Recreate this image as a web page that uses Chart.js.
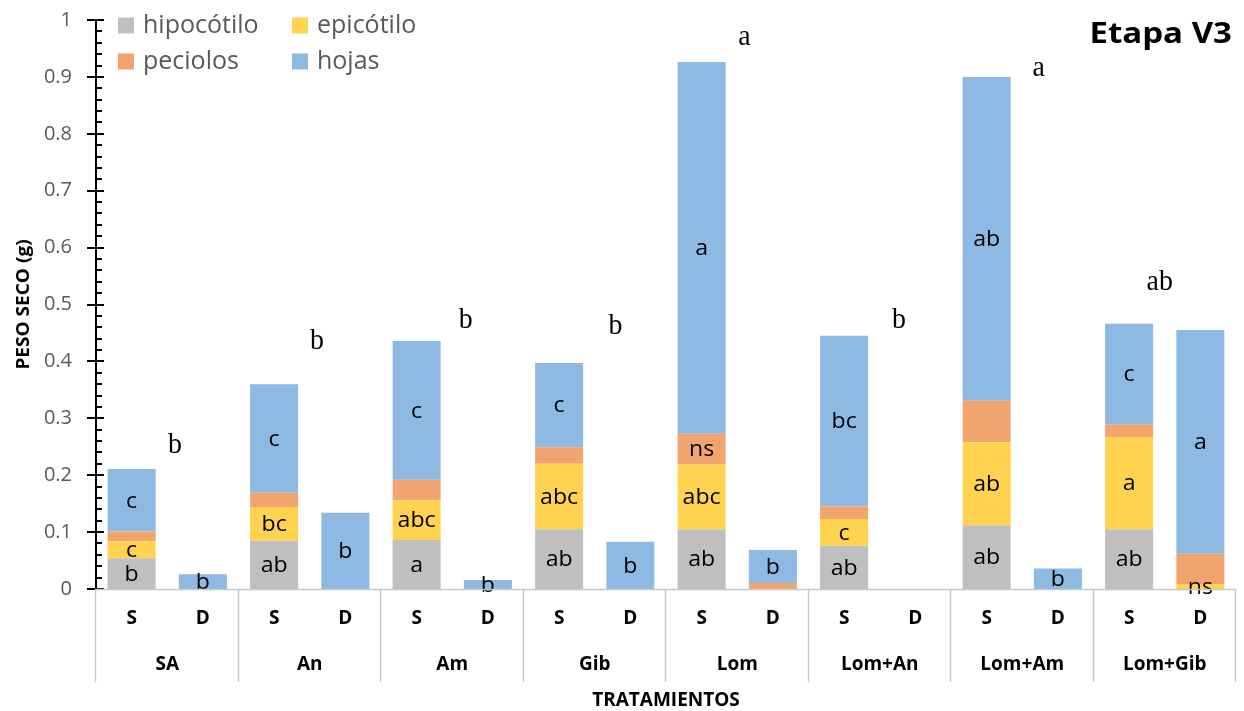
<!DOCTYPE html>
<html>
<head>
<meta charset="utf-8">
<script src="https://cdn.jsdelivr.net/npm/chart.js@4.4.1/dist/chart.umd.min.js"></script>
<style>
  html, body { margin: 0; padding: 0; background: #ffffff; }
  #wrap { width: 1244px; height: 711px; position: relative; }
</style>
</head>
<body>
<div id="wrap"><canvas id="chart" width="1244" height="711"></canvas></div>
<script>
// Treatments and the two parts measured for each one
const treatments = ['SA', 'An', 'Am', 'Gib', 'Lom', 'Lom+An', 'Lom+Am', 'Lom+Gib'];
const parts = ['S', 'D'];

// Dry weight (g) per organ; order: SA-S, SA-D, An-S, An-D, ...
const hipocotilo = [0.054, 0, 0.085, 0, 0.086, 0, 0.105, 0, 0.105, 0, 0.076, 0, 0.112, 0, 0.105, 0];
const epicotilo  = [0.030, 0, 0.059, 0, 0.070, 0, 0.115, 0, 0.114, 0, 0.047, 0, 0.146, 0, 0.162, 0.009];
const peciolos   = [0.017, 0, 0.025, 0, 0.036, 0, 0.029, 0, 0.054, 0.0105, 0.022, 0, 0.073, 0, 0.022, 0.053];
const hojas      = [0.110, 0.026, 0.191, 0.134, 0.244, 0.016, 0.148, 0.083, 0.653, 0.058, 0.300, 0, 0.569, 0.036, 0.177, 0.393];

// Significance letters written inside each segment
const hipocotiloLetters = ['b', '', 'ab', '', 'a', '', 'ab', '', 'ab', '', 'ab', '', 'ab', '', 'ab', ''];
const epicotiloLetters  = ['c', '', 'bc', '', 'abc', '', 'abc', '', 'abc', '', 'c', '', 'ab', '', 'a', 'ns'];
const peciolosLetters   = ['', '', '', '', '', '', '', '', 'ns', '', '', '', '', '', '', ''];
const hojasLetters      = ['c', 'b', 'c', 'b', 'c', 'b', 'c', 'b', 'a', 'b', 'bc', '', 'ab', 'b', 'c', 'a'];

// Letters for the whole plant of each treatment
const totalLetters = ['b', 'b', 'b', 'b', 'a', 'b', 'a', 'ab'];
// where each of those letters sits: [category position, value at baseline]
const totalLetterSpots = [[0.61, 0.239], [2.60, 0.422], [4.69, 0.459], [6.79, 0.448],
                          [8.60, 0.956], [10.77, 0.459], [12.73, 0.902], [14.43, 0.525]];

const colors = ['#BFBFBF', '#FFD34F', '#F2A46F', '#8DB9E2'];
const seriesNames = ['hipocótilo', 'epicótilo', 'peciolos', 'hojas'];
const seriesValues = [hipocotilo, epicotilo, peciolos, hojas];
const seriesLetters = [hipocotiloLetters, epicotiloLetters, peciolosLetters, hojasLetters];

const labels = [];
treatments.forEach(t => parts.forEach(p => labels.push(t + ' ' + p)));

const FONT = "'Open Sans', 'Noto Sans', sans-serif";
const SERIF = "'Liberation Serif', 'DejaVu Serif', serif";

function stretchedText(ctx, text, x, y, font, color, align, baseline, sx) {
  ctx.save();
  ctx.font = font;
  ctx.fillStyle = color;
  ctx.textAlign = align;
  ctx.textBaseline = baseline;
  ctx.translate(x, y);
  ctx.scale(sx, 1);
  ctx.fillText(text, 0, 0);
  ctx.restore();
}

const decorations = {
  id: 'decorations',
  afterDatasetsDraw(chart) {
    const ctx = chart.ctx;
    const area = chart.chartArea;
    const xs = chart.scales.x;
    const ys = chart.scales.y;

    // letters inside the stacked segments
    chart.data.datasets.forEach((ds, di) => {
      const meta = chart.getDatasetMeta(di);
      meta.data.forEach((bar, i) => {
        const txt = seriesLetters[di][i];
        if (!txt) return;
        const cy = (bar.y + bar.base) / 2;
        stretchedText(ctx, txt, bar.x, cy + 1, '22px ' + FONT, '#000000', 'center', 'middle', 1.05);
      });
    });

    // whole-plant letters
    totalLetters.forEach((txt, i) => {
      const [pos, val] = totalLetterSpots[i];
      const x = xs.getPixelForValue(0) + pos * (xs.getPixelForValue(1) - xs.getPixelForValue(0));
      const y = ys.getPixelForValue(val);
      stretchedText(ctx, txt, x, y, '30px ' + SERIF, '#000000', 'center', 'alphabetic', 0.93);
    });

    // y axis line with major and minor ticks
    ctx.save();
    ctx.strokeStyle = '#000000';
    ctx.lineWidth = 2;
    const ax = area.left;
    ctx.beginPath();
    ctx.moveTo(ax, ys.getPixelForValue(1));
    ctx.lineTo(ax, ys.getPixelForValue(0));
    ctx.stroke();
    for (let k = 0; k <= 50; k++) {
      const y = Math.round(ys.getPixelForValue(k / 50));
      ctx.beginPath();
      if (k % 5 === 0) {
        ctx.moveTo(ax - 9, y);
        ctx.lineTo(ax + 8, y);
      } else {
        ctx.moveTo(ax, y);
        ctx.lineTo(ax + 6, y);
      }
      ctx.stroke();
    }
    ctx.restore();

    // category axis: baseline, group separators and two rows of labels
    const base = ys.getPixelForValue(0);
    ctx.save();
    ctx.strokeStyle = '#C8C8C8';
    ctx.lineWidth = 1.5;
    ctx.beginPath();
    ctx.moveTo(area.left - 1, base + 0.5);
    ctx.lineTo(area.right, base + 0.5);
    ctx.stroke();
    const step = xs.getPixelForValue(1) - xs.getPixelForValue(0);
    for (let g = 0; g <= treatments.length; g++) {
      const x = Math.round(xs.getPixelForValue(g * 2) - step / 2) - 0.5;
      ctx.beginPath();
      ctx.moveTo(x, base);
      ctx.lineTo(x, base + 93);
      ctx.stroke();
    }
    ctx.restore();

    labels.forEach((lab, i) => {
      const x = xs.getPixelForValue(i);
      stretchedText(ctx, parts[i % 2], x, base + 29, 'bold 20px ' + FONT, '#000000', 'center', 'middle', 0.95);
    });
    treatments.forEach((t, g) => {
      const x = (xs.getPixelForValue(g * 2) + xs.getPixelForValue(g * 2 + 1)) / 2;
      stretchedText(ctx, t, x, base + 75, 'bold 20px ' + FONT, '#000000', 'center', 'middle', 0.95);
    });
    stretchedText(ctx, 'TRATAMIENTOS', (area.left + area.right) / 2, base + 111, 'bold 20px ' + FONT, '#000000', 'center', 'middle', 0.95);

    // y axis title
    ctx.save();
    ctx.translate(24, (area.top + area.bottom) / 2);
    ctx.rotate(-Math.PI / 2);
    ctx.scale(1.12, 1);
    ctx.font = 'bold 17px ' + FONT;
    ctx.fillStyle = '#000000';
    ctx.textAlign = 'center';
    ctx.textBaseline = 'middle';
    ctx.fillText('PESO SECO (g)', 0, 0);
    ctx.restore();

    // legend, two columns inside the plot area
    const legendCols = [area.left + 22, area.left + 196];
    const legendRows = [25.5, 61.5];
    seriesNames.forEach((name, i) => {
      const lx = legendCols[i % 2];
      const ly = legendRows[Math.floor(i / 2)];
      ctx.fillStyle = colors[i];
      ctx.fillRect(lx, ly - 8, 16, 16);
      stretchedText(ctx, name, lx + 25, ly, '25px ' + FONT, '#595959', 'left', 'middle', 1.0);
    });

    // stage title
    stretchedText(ctx, 'Etapa V3', 1232, 43, 'bold 28px ' + FONT, '#000000', 'right', 'alphabetic', 1.18);
  }
};

new Chart(document.getElementById('chart'), {
  type: 'bar',
  data: {
    labels: labels,
    datasets: seriesNames.map((name, i) => ({
      label: name,
      data: seriesValues[i],
      backgroundColor: colors[i],
      borderWidth: 0,
      barPercentage: 0.674,
      categoryPercentage: 1.0
    }))
  },
  options: {
    responsive: false,
    animation: false,
    devicePixelRatio: 1,
    layout: { padding: { top: 20, right: 8, bottom: 122, left: 0 } },
    plugins: { legend: { display: false }, tooltip: { enabled: false } },
    scales: {
      x: { stacked: true, display: false },
      y: {
        stacked: true,
        min: 0,
        max: 1,
        ticks: {
          stepSize: 0.1,
          padding: 24,
          color: '#595959',
          font: { family: FONT, size: 20 },
          callback: (v) => String(Number(v.toFixed(2)))
        },
        grid: { display: false, drawTicks: false },
        border: { display: false },
        afterFit(scale) {
          scale.width = 96;
          scale.paddingTop = 0;
          scale.paddingBottom = 0;
        }
      }
    }
  },
  plugins: [decorations]
});
</script>
</body>
</html>
